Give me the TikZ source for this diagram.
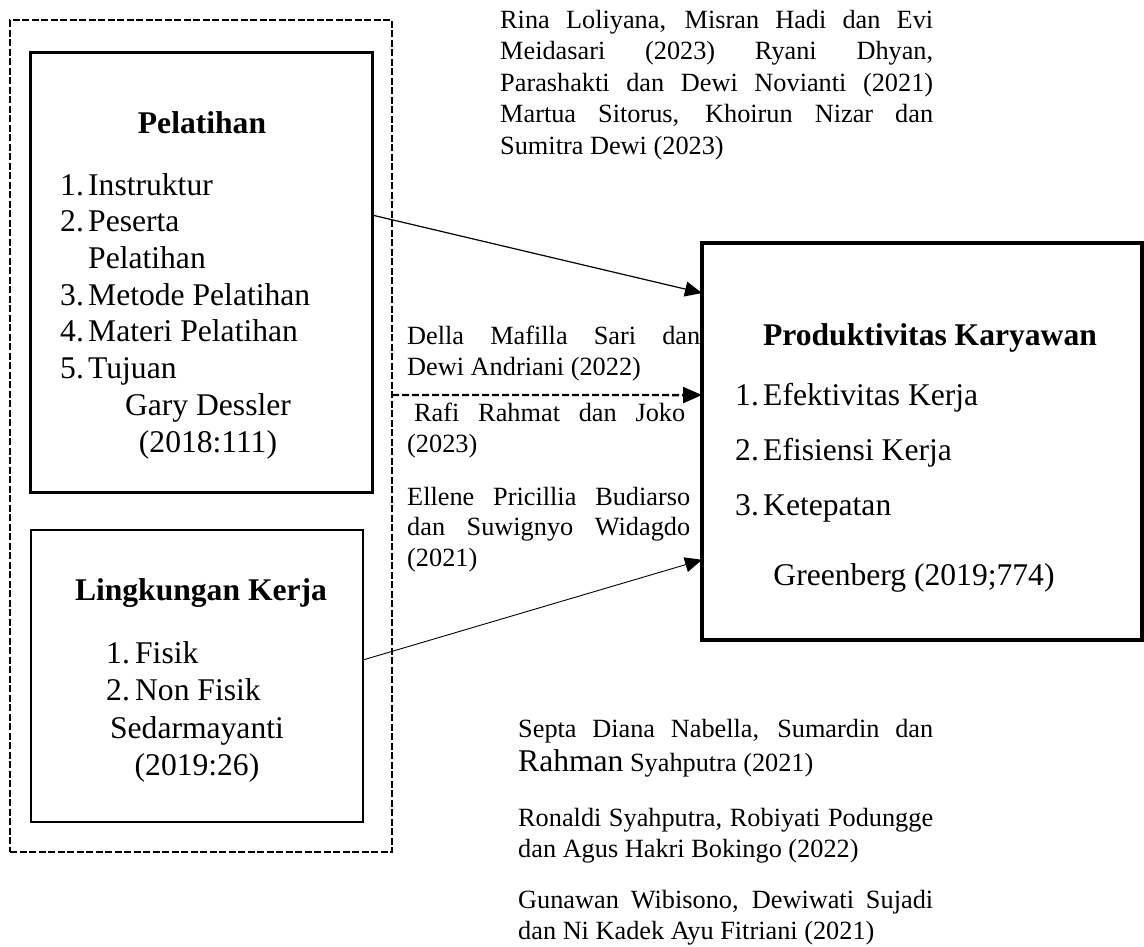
\documentclass[tikz,border=0pt]{standalone}
\usepackage{fontspec}
\setmainfont{Liberation Serif}
\usetikzlibrary{arrows.meta,calc}
\newcommand\ctf{\fontsize{26.3}{30.5}\selectfont}
\newcommand\lsf{\fontsize{31.6}{36.7}\selectfont}
\newcommand\jline[2]{\makebox[#1][s]{#2}}
\newcommand\num[1]{\makebox[28pt][l]{#1}}
\begin{document}
\begin{tikzpicture}[x=1pt,y=-1pt,
  boxA/.style={draw, line width=3pt, inner sep=0pt, outer sep=0pt},
  boxB/.style={draw, line width=2.4pt, inner sep=0pt, outer sep=0pt},
  boxC/.style={draw, line width=3.2pt, inner sep=0pt, outer sep=0pt},
  grpbox/.style={draw, line width=2.6pt, dash pattern=on 7pt off 2.5pt, inner sep=0pt, outer sep=0pt},
  arr/.style={-{Triangle[length=17pt,width=15pt]}},
  darr/.style={-{Triangle[length=19pt,width=16pt]}, line width=2.4pt, dash pattern=on 7pt off 3pt},
  headtxt/.style={anchor=base, font=\lsf\bfseries, inner sep=0pt},
  listtxt/.style={anchor=base west, align=left, font=\lsf, inner sep=0pt},
  reftxt/.style={anchor=base, align=center, font=\lsf, inner sep=0pt},
  citetxt/.style={anchor=base west, align=left, font=\ctf, inner sep=0pt}]
\useasboundingbox (0,0) rectangle (1144,946);

% boxes
\node[grpbox, minimum width=382pt, minimum height=832pt] (grp) at (201,436) {};
\node[boxA, minimum width=342pt, minimum height=440pt] (pel) at (201,272) {};
\node[boxB, minimum width=332pt, minimum height=292pt] (ling) at (197,676) {};
\node[boxC, minimum width=440pt, minimum height=397pt] (prod) at (922,441.5) {};

% Pelatihan (base anchor = baseline of the last line)
\node[headtxt] (pelT) at (202,133) {Pelatihan};
\node[listtxt] (pelL) at (60,378.5) {\num{1.}Instruktur\\ \num{2.}Peserta\\ \hspace*{28pt}Pelatihan\\ \num{3.}Metode Pelatihan\\ \num{4.}Materi Pelatihan\\ \num{5.}Tujuan};
\node[reftxt] (pelR) at (208,452) {Gary Dessler\\(2018:111)};

% Lingkungan Kerja
\node[headtxt] (lingT) at (201,600) {Lingkungan Kerja};
\node[listtxt] (lingL) at (106,700) {\makebox[29pt][l]{1.}Fisik\\ \makebox[29pt][l]{2.}Non Fisik};
\node[reftxt] (lingR) at (197,775) {Sedarmayanti\\(2019:26)};

% Produktivitas Karyawan
\node[headtxt] (prodT) at (930,345) {Produktivitas Karyawan};
\node[listtxt, font=\fontsize{31.6}{55}\selectfont] (prodL) at (735,515) {\num{1.}Efektivitas Kerja\\ \num{2.}Efisiensi Kerja\\ \num{3.}Ketepatan};
\node[reftxt] (prodR) at (914,585) {Greenberg (2019;774)};

% connectors
\draw[arr, line width=1.2pt] ($(pel.north east)!0.3705!(pel.south east)$) -- ($(prod.north west)!0.126!(prod.south west)$);
\draw[darr] ($(grp.north east)!0.4507!(grp.south east)$) -- ($(prod.north west)!0.383!(prod.south west)$);
\draw[arr, line width=0.9pt] ($(ling.north east)!0.445!(ling.south east)$) -- ($(prod.north west)!0.798!(prod.south west)$);

% citations
\node[citetxt, font=\fontsize{26.3}{31.5}\selectfont] (c1) at (500,154) {\jline{433pt}{Rina Loliyana, Misran Hadi dan Evi}\\ \jline{433pt}{Meidasari (2023) Ryani Dhyan,}\\ \jline{433pt}{Parashakti dan Dewi Novianti (2021)}\\ \jline{433pt}{Martua Sitorus, Khoirun Nizar dan}\\ Sumitra Dewi (2023)};
\node[citetxt] (c2) at (407,375) {\jline{293pt}{Della Mafilla Sari dan}\\ Dewi Andriani (2022)};
\node[citetxt] (c3) at (407,452) {\hspace*{7pt}\jline{271pt}{Rafi Rahmat dan Joko}\\ (2023)};
\node[citetxt] (c4) at (407,566) {\jline{283pt}{Ellene Pricillia Budiarso}\\ \jline{283pt}{dan Suwignyo Widagdo}\\ (2021)};
\node[citetxt] (c5) at (518,771) {\jline{415pt}{Septa Diana Nabella, Sumardin dan}\\[3pt] {\fontsize{31.6}{34}\selectfont Rahman} Syahputra (2021)};
\node[citetxt] (c6) at (518,857) {\jline{415pt}{Ronaldi Syahputra, Robiyati Podungge}\\ dan Agus Hakri Bokingo (2022)};
\node[citetxt] (c7) at (518,939) {\jline{415pt}{Gunawan Wibisono, Dewiwati Sujadi}\\ dan Ni Kadek Ayu Fitriani (2021)};
\end{tikzpicture}
\end{document}
